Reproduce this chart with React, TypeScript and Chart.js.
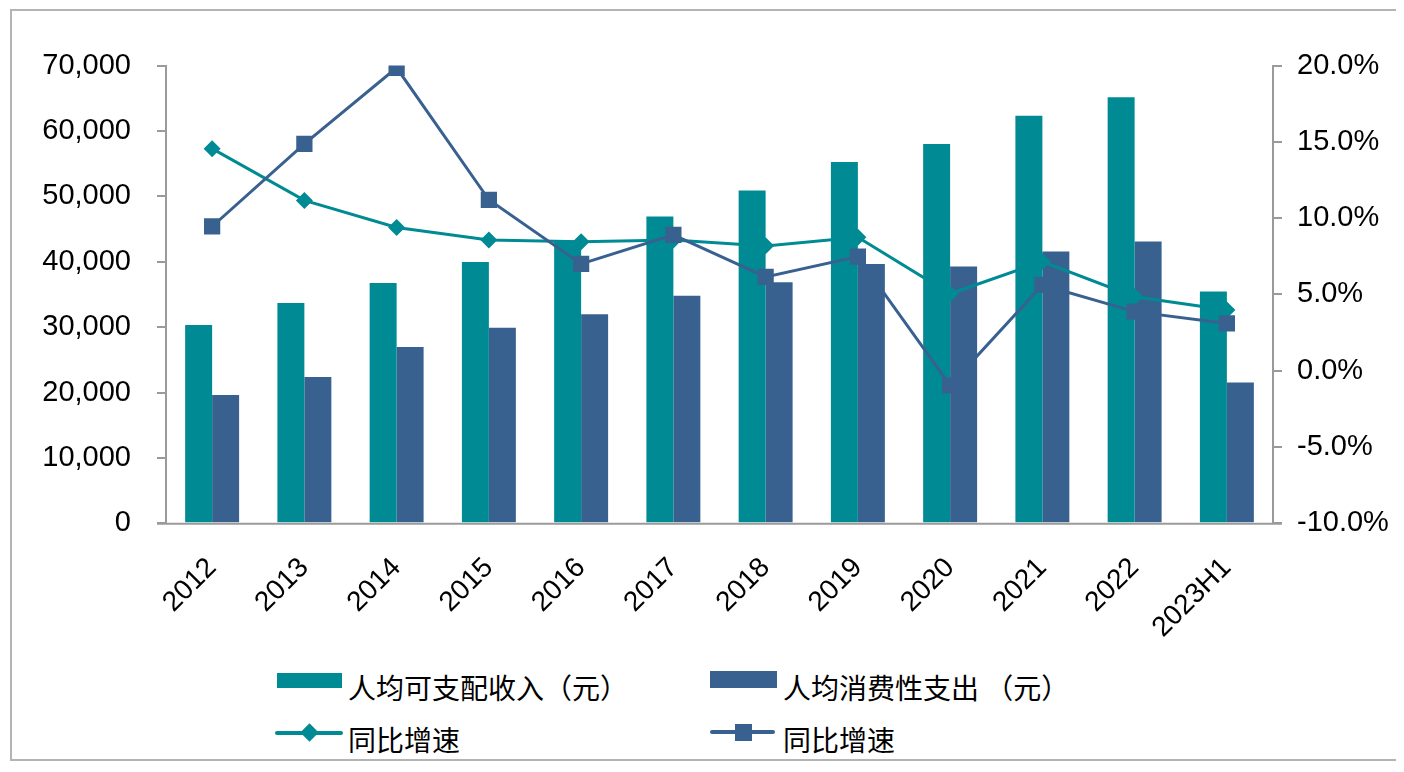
import React, { useEffect, useRef } from "react";
import { Chart, registerables } from "chart.js";

Chart.register(...registerables);

const categories = ["2012", "2013", "2014", "2015", "2016", "2017", "2018", "2019", "2020", "2021", "2022", "2023H1"];
const incomeValues = [30340, 33700, 36750, 39950, 43200, 46900, 50900, 55250, 58000, 62300, 65150, 35450];
const expenseValues = [19620, 22370, 26960, 29900, 31950, 34780, 36850, 39650, 39250, 41570, 43100, 21520];
const incomeGrowth = [14.55, 11.16, 9.38, 8.57, 8.45, 8.57, 8.18, 8.74, 5.04, 7.15, 4.85, 3.98];
const expenseGrowth = [9.45, 14.86, 19.85, 11.2, 7.0, 8.9, 6.15, 7.48, -0.96, 5.62, 3.87, 3.1];
const legendLabels = ["人均可支配收入（元）", "人均消费性支出 （元）", "同比增速", "同比增速"];

const TEAL = "#008B94";
const BLUE = "#386190";
const AXIS = "#9a9a9a";
const FONT = '"Liberation Sans", Arial, "Noto Sans CJK SC", sans-serif';

const axisExtend = {
  id: "axisExtend",
  afterDraw(chart: any) {
    const { ctx, chartArea } = chart;
    ctx.save();
    ctx.strokeStyle = AXIS;
    ctx.lineWidth = 2;
    ctx.beginPath();
    ctx.moveTo(chartArea.left - 9, chartArea.bottom + 0.5);
    ctx.lineTo(chartArea.right + 9, chartArea.bottom + 0.5);
    ctx.stroke();
    ctx.restore();
  },
};

export default function App() {
  const ref = useRef<HTMLCanvasElement | null>(null);

  useEffect(() => {
    if (!ref.current) return;
    const chart = new Chart(ref.current, {
      type: "bar",
      data: {
        labels: categories,
        datasets: [
          {
            type: "line",
            label: legendLabels[3],
            data: expenseGrowth,
            yAxisID: "y1",
            borderColor: BLUE,
            backgroundColor: BLUE,
            borderWidth: 3,
            pointStyle: "rect",
            pointRadius: 11.5,
            pointBorderWidth: 0,
            order: 0,
          } as any,
          {
            type: "line",
            label: legendLabels[2],
            data: incomeGrowth,
            yAxisID: "y1",
            borderColor: TEAL,
            backgroundColor: TEAL,
            borderWidth: 3,
            pointStyle: "rectRot",
            pointRadius: 8.5,
            pointBorderWidth: 0,
            order: 1,
          } as any,
          {
            type: "bar",
            label: legendLabels[0],
            data: incomeValues,
            yAxisID: "y",
            backgroundColor: TEAL,
            barPercentage: 1,
            categoryPercentage: 0.585,
            order: 2,
          },
          {
            type: "bar",
            label: legendLabels[1],
            data: expenseValues,
            yAxisID: "y",
            backgroundColor: BLUE,
            barPercentage: 1,
            categoryPercentage: 0.585,
            order: 2,
          },
        ],
      },
      options: {
        responsive: false,
        animation: false,
        events: [],
        layout: { padding: { top: 54.5, left: 0, right: 0, bottom: 0 } },
        plugins: { legend: { display: false }, tooltip: { enabled: false } },
        scales: {
          x: {
            grid: { display: false },
            border: { display: false },
            ticks: {
              color: "#000",
              font: { family: FONT, size: 28 },
              minRotation: 45,
              maxRotation: 45,
              padding: 20,
              autoSkip: false,
            },
            afterFit: (s: any) => {
              s.height = 137.7;
            },
          },
          y: {
            position: "left",
            min: 0,
            max: 70000,
            grid: { drawOnChartArea: false, drawTicks: true, tickLength: 9, color: AXIS, lineWidth: 2 },
            border: { display: true, color: AXIS, width: 2 },
            ticks: {
              stepSize: 10000,
              color: "#000",
              padding: 26,
              font: { family: FONT, size: 29 },
              callback: (v: any) => Number(v).toLocaleString("en-US"),
            },
            afterFit: (s: any) => {
              s.width = 154;
            },
          },
          y1: {
            position: "right",
            min: -10,
            max: 20,
            grid: { drawOnChartArea: false, drawTicks: true, tickLength: 9, color: AXIS, lineWidth: 2 },
            border: { display: true, color: AXIS, width: 2 },
            ticks: {
              stepSize: 5,
              color: "#000",
              padding: 15,
              font: { family: FONT, size: 29 },
              callback: (v: any) => Number(v).toFixed(1) + "%",
            },
            afterFit: (s: any) => {
              s.width = 125;
            },
          },
        },
      },
      plugins: [axisExtend],
    });
    return () => chart.destroy();
  }, []);

  const textStyle: React.CSSProperties = {
    position: "absolute",
    fontFamily: '"Noto Sans CJK SC", sans-serif',
    fontSize: 28,
    lineHeight: "28px",
    color: "#000",
    whiteSpace: "pre",
  };

  return (
    <div style={{ position: "relative", width: 1404, height: 772 }}>
      <div
        style={{
          position: "absolute",
          left: 2,
          top: 1,
          width: 1390,
          height: 752,
          border: "2px solid #b4b4b4",
          boxSizing: "border-box",
        }}
      />
      <canvas
        ref={ref}
        width={1386}
        height={650}
        style={{ position: "absolute", left: 4, top: 3, width: 1386, height: 650 }}
      />
      {/* legend row 1 */}
      <div style={{ position: "absolute", left: 269, top: 665, width: 65, height: 15, background: TEAL }} />
      <div style={{ ...textStyle, left: 340, top: 665 }}>{legendLabels[0]}</div>
      <div style={{ position: "absolute", left: 702, top: 663, width: 67, height: 17, background: BLUE }} />
      <div style={{ ...textStyle, left: 775, top: 665 }}>{legendLabels[1]}</div>
      {/* legend row 2 */}
      <div style={{ position: "absolute", left: 267, top: 723, width: 68, height: 4, background: TEAL, borderRadius: 2 }} />
      <div
        style={{
          position: "absolute",
          left: 295,
          top: 718,
          width: 13,
          height: 13,
          background: TEAL,
          transform: "rotate(45deg)",
        }}
      />
      <div style={{ ...textStyle, left: 340, top: 717 }}>{legendLabels[2]}</div>
      <div style={{ position: "absolute", left: 702, top: 722, width: 65, height: 4, background: BLUE, borderRadius: 2 }} />
      <div style={{ position: "absolute", left: 727, top: 716, width: 17, height: 17, background: BLUE }} />
      <div style={{ ...textStyle, left: 775, top: 717 }}>{legendLabels[3]}</div>
    </div>
  );
}
